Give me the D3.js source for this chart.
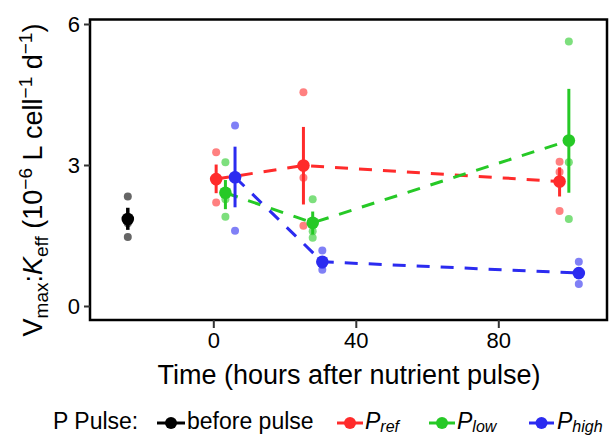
<!DOCTYPE html>
<html>
<head>
<meta charset="utf-8">
<script src="https://cdn.jsdelivr.net/npm/d3@7"></script>
<style>
  html, body { margin: 0; padding: 0; background: #fff; }
  svg { display: block; font-family: "Liberation Sans", Arial, Helvetica, sans-serif; }
</style>
</head>
<body>
<svg id="chart" width="616" height="437"></svg>
<script>
// ---------- data ----------
const groupNames = ["before pulse", "P_ref", "P_low", "P_high"];
const groupColors = ["#000000", "#ff2b2b", "#26c926", "#2b2bf0"];

const beforeTime = [-24];
const beforeMean = [1.85];
const beforeLo = [1.62];
const beforeHi = [2.09];
const beforeReps = [[2.33, 1.76, 1.47]];

const refTime = [0.8, 25.3, 97.2];
const refMean = [2.70, 2.99, 2.65];
const refLo = [2.40, 2.16, 2.33];
const refHi = [3.01, 3.81, 2.95];
const refReps = [[3.27, 2.65, 2.20], [4.55, 2.73, 1.71], [3.07, 2.85, 2.02]];

const lowTime = [3.4, 27.9, 99.8];
const lowMean = [2.41, 1.77, 3.52];
const lowLo = [2.06, 1.53, 2.41];
const lowHi = [2.68, 2.01, 4.62];
const lowReps = [[3.06, 2.27, 1.90], [2.27, 1.59, 1.45], [5.63, 3.06, 1.85]];

const highTime = [6.1, 30.6, 102.6];
const highMean = [2.74, 0.94, 0.70];
const highLo = [2.10, 0.83, 0.59];
const highHi = [3.39, 1.06, 0.82];
const highReps = [[3.84, 2.78, 1.60], [1.18, 0.87, 0.77], [0.94, 0.69, 0.47]];

const xTicks = [0, 40, 80];
const yTicks = [0, 3, 6];

// ---------- build table ----------
function build(name, color, t, m, lo, hi, reps, dashed) {
  return { name, color, dashed,
    pts: t.map((d, i) => ({ t: d, mean: m[i], lo: lo[i], hi: hi[i], reps: reps[i] })) };
}
const groups = [
  build(groupNames[0], groupColors[0], beforeTime, beforeMean, beforeLo, beforeHi, beforeReps, false),
  build(groupNames[1], groupColors[1], refTime, refMean, refLo, refHi, refReps, true),
  build(groupNames[2], groupColors[2], lowTime, lowMean, lowLo, lowHi, lowReps, true),
  build(groupNames[3], groupColors[3], highTime, highMean, highLo, highHi, highReps, true)
];

// ---------- layout ----------
const panel = { left: 90, right: 607, top: 19.5, bottom: 320 };
const x = d3.scaleLinear().domain([0, 80]).range([213.3, 498.3]);
const y = d3.scaleLinear().domain([0, 6]).range([306, 24]);

const svg = d3.select("#chart");

// replicate points (transparent)
groups.forEach(g => {
  const rep = [];
  g.pts.forEach(p => p.reps.forEach(v => rep.push({ t: p.t, v })));
  svg.append("g").selectAll("circle").data(rep).join("circle")
    .attr("cx", d => x(d.t)).attr("cy", d => y(d.v)).attr("r", 4)
    .attr("fill", g.color).attr("fill-opacity", 0.6);
});

// dashed lines
const line = d3.line().x(d => x(d.t)).y(d => y(d.mean));
groups.filter(g => g.dashed).forEach(g => {
  svg.append("path").datum(g.pts).attr("d", line)
    .attr("fill", "none").attr("stroke", g.color).attr("stroke-width", 3)
    .attr("stroke-dasharray", "13,11");
});

// error bars
groups.forEach(g => {
  svg.append("g").selectAll("line").data(g.pts).join("line")
    .attr("x1", d => x(d.t)).attr("x2", d => x(d.t))
    .attr("y1", d => y(d.lo)).attr("y2", d => y(d.hi))
    .attr("stroke", g.color).attr("stroke-width", g.dashed ? 3 : 3.5);
});

// means
groups.forEach(g => {
  svg.append("g").selectAll("circle").data(g.pts).join("circle")
    .attr("cx", d => x(d.t)).attr("cy", d => y(d.mean)).attr("r", 6.3)
    .attr("fill", g.color);
});

// panel border
svg.append("rect")
  .attr("x", panel.left).attr("y", panel.top)
  .attr("width", panel.right - panel.left).attr("height", panel.bottom - panel.top)
  .attr("fill", "none").attr("stroke", "#000").attr("stroke-width", 2.5);

// axes
const xAxis = svg.append("g").attr("transform", `translate(0,${panel.bottom})`)
  .call(d3.axisBottom(x).tickValues(xTicks).tickSize(8).tickPadding(3).tickFormat(d3.format("d")));
xAxis.select(".domain").remove();
xAxis.selectAll(".tick line").attr("stroke", "#333").attr("stroke-width", 2);
xAxis.selectAll(".tick text").attr("font-size", 22).attr("fill", "#000")
  .attr("font-family", "Liberation Sans, Arial, sans-serif").attr("dy", "0.75em");

const yAxis = svg.append("g").attr("transform", `translate(${panel.left},0)`)
  .call(d3.axisLeft(y).tickValues(yTicks).tickSize(6).tickPadding(4).tickFormat(d3.format("d")));
yAxis.select(".domain").remove();
yAxis.selectAll(".tick line").attr("stroke", "#333").attr("stroke-width", 2);
yAxis.selectAll(".tick text").attr("font-size", 22).attr("fill", "#000")
  .attr("font-family", "Liberation Sans, Arial, sans-serif");

// x title
svg.append("text").attr("x", 349).attr("y", 383.5).attr("text-anchor", "middle")
  .attr("font-size", 27).text("Time (hours after nutrient pulse)");

// y title
const yt = svg.append("text").attr("transform", "translate(42,180) rotate(-90)")
  .attr("text-anchor", "middle").attr("font-size", 27);
const parts = [
  { t: "V", dy: 0 },
  { t: "max", dy: 6, fs: 19 },
  { t: ":", dy: -6 },
  { t: "K", dy: 0, it: true },
  { t: "eff", dy: 6, fs: 19 },
  { t: " (10", dy: -6 },
  { t: "\u22126", dy: -10, fs: 19 },
  { t: " L cell", dy: 10 },
  { t: "\u22121", dy: -10, fs: 19 },
  { t: " d", dy: 10 },
  { t: "\u22121", dy: -10, fs: 19 },
  { t: ")", dy: 10 }
];
parts.forEach(p => {
  const ts = yt.append("tspan").attr("dy", p.dy).text(p.t);
  if (p.fs) ts.attr("font-size", p.fs);
  if (p.it) ts.attr("font-style", "italic");
});

// legend
const legY = 428.5, keyY = 423;
svg.append("text").attr("x", 53).attr("y", legY).attr("font-size", 23).text("P Pulse:");
const legKeys = [
  { x0: 157, x1: 185, tx: 187, main: "before pulse", sub: null },
  { x0: 337, x1: 363, tx: 365, main: "P", sub: "ref" },
  { x0: 429, x1: 455, tx: 457, main: "P", sub: "low" },
  { x0: 529, x1: 554, tx: 557, main: "P", sub: "high" }
];
legKeys.forEach((k, i) => {
  const c = groupColors[i];
  svg.append("line").attr("x1", k.x0).attr("x2", k.x1).attr("y1", keyY).attr("y2", keyY)
    .attr("stroke", c).attr("stroke-width", 3);
  svg.append("circle").attr("cx", (k.x0 + k.x1) / 2).attr("cy", keyY).attr("r", 6).attr("fill", c);
  const t = svg.append("text").attr("x", k.tx).attr("y", legY).attr("font-size", 23);
  if (k.sub) {
    t.append("tspan").attr("font-style", "italic").text(k.main);
    t.append("tspan").attr("font-style", "italic").attr("font-size", 16).attr("dy", 3.5).text(k.sub);
  } else {
    t.text(k.main);
  }
});
</script>
</body>
</html>
